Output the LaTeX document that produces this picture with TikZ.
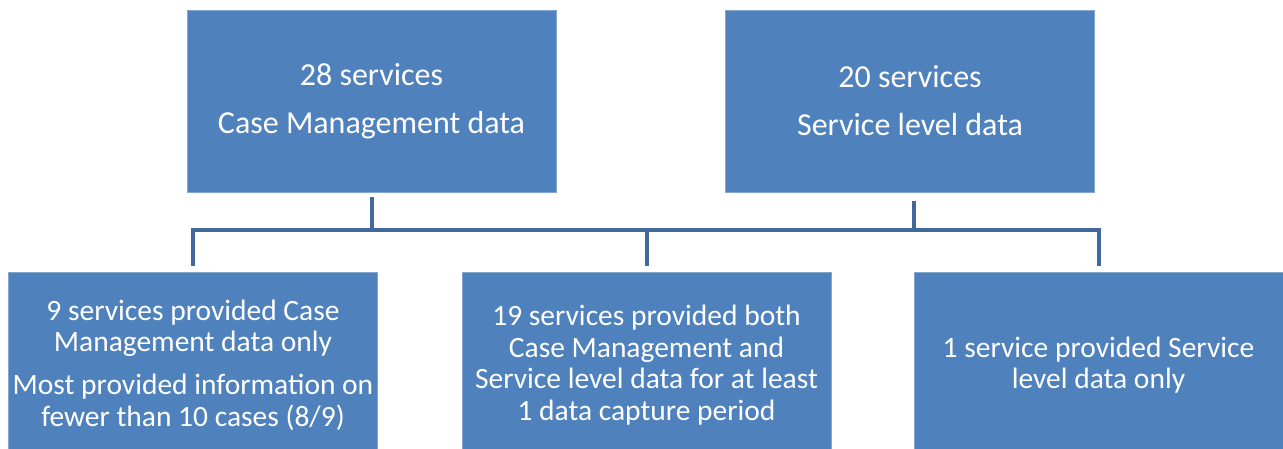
\documentclass[tikz,border=0pt]{standalone}
\usepackage{fontspec}
\setmainfont{Carlito}
\definecolor{boxblue}{HTML}{4F81BD}
\definecolor{linkblue}{HTML}{41699B}
\tikzset{
  group/.style={fill=boxblue, draw=boxblue!70!white, line width=0.6pt, inner sep=0pt,
    minimum width=369pt, minimum height=182pt, text=white, align=center,
    font=\fontsize{32}{39}\selectfont},
  result/.style={group, minimum height=186pt, font=\fontsize{29.5}{31.7}\selectfont},
  link/.style={linkblue, line width=4pt}
}

\begin{document}
\begin{tikzpicture}[x=1pt, y=-1pt]
  \useasboundingbox (0,0) rectangle (1283,448);
  \node[group] (cm) at (371.5,101) {28 services\\[9pt]Case Management data};
  \node[group] (sl) at (910,101) {20 services\\[9pt]Service level data};
  \node[result] (cmonly) at (193,365) {9 services provided Case\\Management data only\\[11pt]Most provided information on\\fewer than 10 cases (8/9)};
  \node[result] (both) at (646.5,365) {19 services provided both\\Case Management and\\Service level data for at least\\1 data capture period};
  \node[result] (slonly) at (1098.5,365) {1 service provided Service\\level data only};
  \coordinate (bus) at (0,230);
  % bus between the two rows
  \draw[link] ([yshift=6pt]cmonly.north) |- (slonly.north |- bus) -- ([yshift=6pt]slonly.north);
  \draw[link] (both.north |- bus) -- ([yshift=6pt]both.north);
  \draw[link] ([yshift=-5pt]cm.south) -- (cm.south |- bus);
  \draw[link] ([xshift=4pt,yshift=-9pt]sl.south) -- ([xshift=4pt]sl.south |- bus);
\end{tikzpicture}
\end{document}
